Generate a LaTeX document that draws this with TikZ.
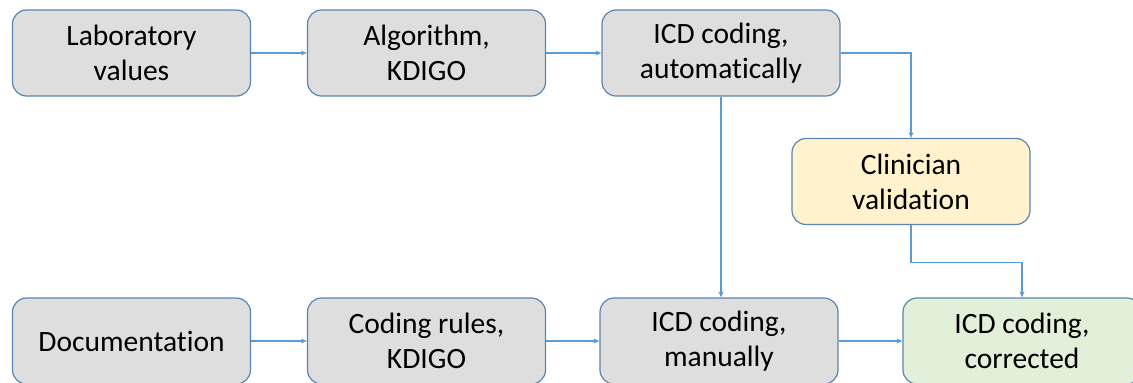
\documentclass[tikz,border=0pt]{standalone}
\usepackage{fontspec}
\setmainfont{Carlito}[Ligatures=NoCommon]
\usetikzlibrary{arrows.meta}
\definecolor{boxborder}{HTML}{5A84B0}
\definecolor{grayfill}{HTML}{DEDEDE}
\definecolor{yellowfill}{HTML}{FFF2CC}
\definecolor{greenfill}{HTML}{E2F0D9}
\definecolor{linkblue}{HTML}{5B9BD5}
\tikzset{
  stepbox/.style={draw=boxborder, line width=1.2pt, rounded corners=14pt,
    minimum width=238pt, minimum height=86pt, align=center, inner sep=0pt,
    font=\fontsize{29.5}{35}\selectfont, fill=grayfill},
  link/.style={draw=linkblue, line width=1.1pt, -{Stealth[length=6pt,width=5pt]}}
}
\begin{document}
\begin{tikzpicture}[x=1pt,y=-1pt]
\clip (0,0) rectangle (1133,383);
\node[stepbox] (lab) at (131.5,53) {Laboratory\\values};
\node[stepbox] (alg) at (426.5,53) {Algorithm,\\KDIGO};
\node[stepbox] (auto) at (721,53) {ICD coding,\\automatically};
\node[stepbox, fill=yellowfill] (clin) at (911,181.5) {Clinician\\validation};
\node[stepbox] (doc) at (131.5,341) {Documentation};
\node[stepbox] (rules) at (426.5,341) {Coding rules,\\KDIGO};
\node[stepbox] (man) at (719,341) {ICD coding,\\manually};
\node[stepbox, fill=greenfill] (corr) at (1022,341) {ICD coding,\\corrected};
\draw[link] (lab.east) -- (alg.west);
\draw[link] (alg.east) -- (auto.west);
\draw[link] (auto.east) -| (clin.north);
\draw[link] (auto.south) -- (auto.south |- man.north);
\draw[link] (clin.south) -- ++(0,37) -| (corr.north);
\draw[link] (doc.east) -- (rules.west);
\draw[link] (rules.east) -- (man.west);
\draw[link] (man.east) -- (corr.west);
\end{tikzpicture}
\end{document}
